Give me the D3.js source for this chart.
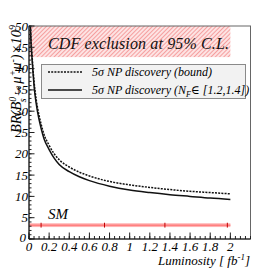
<!DOCTYPE html>
<html>
<head>
<meta charset="utf-8">
<script src="https://cdn.jsdelivr.net/npm/d3@7"></script>
<style>
  body { margin: 0; background: #fff; }
  text { font-family: "Liberation Serif", "DejaVu Serif", serif; font-style: italic; }
</style>
</head>
<body>
<div id="chart"></div>
<script>
// values
const lumSolid = [0.013, 0.02, 0.03, 0.04, 0.05, 0.07, 0.1, 0.12, 0.15, 0.2, 0.25, 0.3, 0.4, 0.5, 0.6, 0.8, 1.0, 1.2, 1.4, 1.6, 1.8, 2.0];
const brSolid  = [50, 46, 42.5, 39, 36, 32, 28, 26, 23.5, 21, 19, 17.5, 15.8, 14.6, 13.7, 12.4, 11.5, 10.9, 10.4, 10.0, 9.6, 9.3];
const lumDotted = [0.014, 0.02, 0.03, 0.04, 0.05, 0.07, 0.1, 0.12, 0.15, 0.2, 0.25, 0.3, 0.4, 0.5, 0.6, 0.8, 1.0, 1.2, 1.4, 1.6, 1.8, 2.0];
const brDotted  = [50, 46.5, 43.2, 39.8, 37, 33, 29, 27, 24.5, 22, 20, 18.6, 16.9, 15.7, 14.8, 13.5, 12.7, 12.1, 11.6, 11.2, 10.9, 10.6];
const cdfBand = [42.7, 50];
const cdfLumEnd = 2.0;
const smBand = [2.8, 3.7];
const smValue = 3.25;
const smMarks = [0.12, 0.75, 1.35, 1.97];
const xTicks = [0, 0.2, 0.4, 0.6, 0.8, 1, 1.2, 1.4, 1.6, 1.8, 2];
const yTicks = [0, 5, 10, 15, 20, 25, 30, 35, 40, 45, 50];

const width = 279, height = 268;
const pLeft = 29, pRight = 250.5, pTop = 26, pBottom = 239;

const x = d3.scaleLinear().domain([0, 2.2]).range([pLeft, pRight]);
const y = d3.scaleLinear().domain([0, 50]).range([pBottom, pTop]);

const svg = d3.select("#chart").append("svg")
  .attr("width", width).attr("height", height);

const defs = svg.append("defs");
const pat = defs.append("pattern")
  .attr("id", "hatch").attr("patternUnits", "userSpaceOnUse")
  .attr("width", 3).attr("height", 3)
  .attr("patternTransform", "rotate(45)");
pat.append("rect").attr("width", 3).attr("height", 3).attr("fill", "#fde3e3");
pat.append("line").attr("x1", 0).attr("y1", 0).attr("x2", 0).attr("y2", 3)
  .attr("stroke", "#f28282").attr("stroke-width", 1.4);
defs.append("clipPath").attr("id", "clip").append("rect")
  .attr("x", pLeft).attr("y", pTop).attr("width", pRight - pLeft).attr("height", pBottom - pTop);

// CDF exclusion band
svg.append("rect")
  .attr("x", x(0)).attr("y", y(cdfBand[1]))
  .attr("width", x(cdfLumEnd) - x(0)).attr("height", y(cdfBand[0]) - y(cdfBand[1]))
  .attr("fill", "url(#hatch)");
svg.append("text").attr("x", 48).attr("y", 49)
  .attr("font-size", 16).attr("textLength", 181).attr("fill", "#111")
  .text("CDF exclusion at 95% C.L.");

// SM band
svg.append("rect")
  .attr("x", x(0)).attr("y", y(smBand[1]))
  .attr("width", x(cdfLumEnd) - x(0)).attr("height", y(smBand[0]) - y(smBand[1]))
  .attr("fill", "#ffb3b3");
svg.append("line")
  .attr("x1", x(0)).attr("x2", x(cdfLumEnd)).attr("y1", y(smValue)).attr("y2", y(smValue))
  .attr("stroke", "#ff8080").attr("stroke-width", 1.5);
svg.selectAll(".smmark").data(smMarks).join("line")
  .attr("x1", d => x(d)).attr("x2", d => x(d))
  .attr("y1", y(smBand[1]) - 0.5).attr("y2", y(smBand[0]) + 0.5)
  .attr("stroke", "#c00000").attr("stroke-width", 1);
svg.append("text").attr("x", 48).attr("y", 219).attr("font-size", 15).text("SM");

// curves
const line = d3.line().x(d => x(d[0])).y(d => y(d[1])).curve(d3.curveMonotoneX);
const g = svg.append("g").attr("clip-path", "url(#clip)");
g.append("path").datum(d3.zip(lumDotted, brDotted))
  .attr("d", line).attr("fill", "none").attr("stroke", "#111")
  .attr("stroke-width", 1.5).attr("stroke-dasharray", "2,1.2");
g.append("path").datum(d3.zip(lumSolid, brSolid))
  .attr("d", line).attr("fill", "none").attr("stroke", "#111")
  .attr("stroke-width", 1.5);

// legend
svg.append("rect").attr("x", 41.5).attr("y", 64.5).attr("width", 204).attr("height", 34)
  .attr("fill", "#f2f2f2").attr("stroke", "#8a8a8a").attr("stroke-width", 1);
svg.append("line").attr("x1", 48).attr("x2", 82).attr("y1", 72).attr("y2", 72)
  .attr("stroke", "#111").attr("stroke-width", 1.5).attr("stroke-dasharray", "2,1.2");
svg.append("line").attr("x1", 48).attr("x2", 82).attr("y1", 90).attr("y2", 90)
  .attr("stroke", "#111").attr("stroke-width", 1.5);
svg.append("text").attr("x", 92).attr("y", 76).attr("font-size", 12)
  .text("5σ NP discovery (bound)");
const t2 = svg.append("text").attr("x", 92).attr("y", 94).attr("font-size", 12);
t2.append("tspan").text("5σ NP discovery (N");
t2.append("tspan").attr("dy", 3).attr("font-size", 8).text("F");
t2.append("tspan").attr("dy", -3).text("∈ [1.2,1.4])");

// frame
svg.append("rect").attr("x", pLeft).attr("y", pTop)
  .attr("width", pRight - pLeft).attr("height", pBottom - pTop)
  .attr("fill", "none").attr("stroke", "#666").attr("stroke-width", 1);

// axes with inward ticks
const xMinor = d3.range(0, 2.2001, 0.05);
svg.selectAll(".xminor").data(xMinor).join("line")
  .attr("x1", d => x(d)).attr("x2", d => x(d))
  .attr("y1", pBottom).attr("y2", pBottom - 3)
  .attr("stroke", "#222");
svg.selectAll(".xmajor").data(xTicks).join("line")
  .attr("x1", d => x(d)).attr("x2", d => x(d))
  .attr("y1", pBottom).attr("y2", pBottom - 6.5)
  .attr("stroke", "#222");
svg.selectAll(".xlab").data(xTicks).join("text")
  .attr("x", d => x(d)).attr("y", 251).attr("text-anchor", "middle")
  .attr("font-size", 13).text(d => d);

const yMinor = d3.range(0, 50.001, 1);
svg.selectAll(".yminor").data(yMinor).join("line")
  .attr("x1", pLeft).attr("x2", pLeft + 2.5)
  .attr("y1", d => y(d)).attr("y2", d => y(d))
  .attr("stroke", "#222");
svg.selectAll(".ymajor").data(yTicks).join("line")
  .attr("x1", pLeft).attr("x2", pLeft + 5.5)
  .attr("y1", d => y(d)).attr("y2", d => y(d))
  .attr("stroke", "#222");
svg.selectAll(".ylab").data(yTicks).join("text")
  .attr("x", d => d === 0 ? 26 : 28).attr("y", d => y(d) + (d === 0 ? 3 : 4.5))
  .attr("text-anchor", "end").attr("font-size", 13).text(d => d);
svg.append("line").attr("x1", pLeft).attr("x2", pLeft).attr("y1", pTop).attr("y2", pBottom)
  .attr("stroke", "#111");
svg.append("line").attr("x1", pLeft).attr("x2", pRight).attr("y1", pBottom).attr("y2", pBottom)
  .attr("stroke", "#111");

// axis titles
const xt = svg.append("text").attr("x", 250).attr("y", 265)
  .attr("text-anchor", "end").attr("font-size", 13);
xt.append("tspan").text("Luminosity [ fb");
xt.append("tspan").attr("dy", -5).attr("font-size", 9).text("-1");
xt.append("tspan").attr("dy", 5).text("]");

const yt = svg.append("text")
  .attr("transform", "translate(21,25) rotate(-90)")
  .attr("text-anchor", "end").attr("font-size", 14.5);
yt.append("tspan").text("BR(B");
yt.append("tspan").attr("dy", -5.5).attr("font-size", 10).text("0");
yt.append("tspan").attr("dx", -5.5).attr("dy", 10).attr("font-size", 10).text("s");
yt.append("tspan").attr("dy", -4.5).text("→μ");
yt.append("tspan").attr("dy", -5.5).attr("font-size", 10).text("+");
yt.append("tspan").attr("dy", 5.5).text("μ");
yt.append("tspan").attr("dy", -5.5).attr("font-size", 10).text("-");
yt.append("tspan").attr("dy", 5.5).text(")×10");
yt.append("tspan").attr("dy", -5.5).attr("font-size", 10).text("9");
</script>
</body>
</html>
